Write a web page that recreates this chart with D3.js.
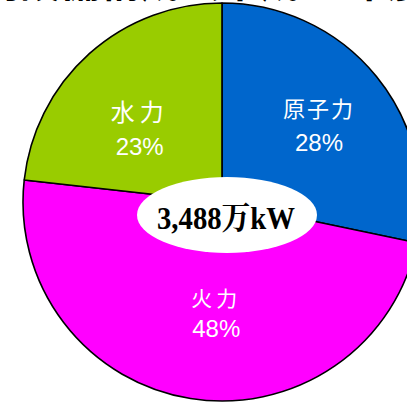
<!DOCTYPE html>
<html>
<head>
<meta charset="utf-8">
<script src="https://cdn.jsdelivr.net/npm/d3@7"></script>
<style>
  html, body { margin: 0; padding: 0; background: #fff; }
  svg { display: block; }
</style>
</head>
<body>
<svg id="chart" width="407" height="403"></svg>
<script>
// Generating capacity mix by source
const sources = ["原子力", "火力", "水力"];
const shares = [28, 48, 23];
const colors = ["#0066CC", "#FF00FF", "#99CC00"];
const totalLabel = "3,488万kW";
const titleText = "電源別設備構成（平成23年度末）";

const svg = d3.select("#chart");
const W = 407, H = 403;
const cx = 222, cy = 202, R = 199;

// Title sits above the frame; only its lower edge shows
svg.append("text")
  .attr("x", W / 2).attr("y", -3)
  .attr("text-anchor", "middle")
  .attr("font-family", "Noto Sans CJK JP")
  .attr("font-weight", "bold")
  .attr("font-size", 40)
  .attr("fill", "#000")
  .text(titleText);

const data = sources.map((s, i) => ({ name: s, value: shares[i], color: colors[i] }));

const pie = d3.pie().sort(null).value(d => d.value);
const arcs = pie(data);

const arc = d3.arc().innerRadius(0).outerRadius(R);
const labelArc = d3.arc().innerRadius(125).outerRadius(125);

const g = svg.append("g").attr("transform", `translate(${cx},${cy})`);

g.selectAll("path.slice")
  .data(arcs)
  .join("path")
  .attr("class", "slice")
  .attr("d", arc)
  .attr("fill", d => d.data.color)
  .attr("stroke", "#000")
  .attr("stroke-width", 1.6)
  .attr("stroke-linejoin", "round");

// Fine placement of each slice's label block
const labelLayout = {
  "原子力": { dx: 0, dy: 0, nameSize: 22, pctSize: 24, spacing: 2, nameDy: -6, pctDy: 28 },
  "火力":   { dx: 14, dy: -13, nameSize: 21, pctSize: 24, spacing: 4, nameDy: -6, pctDy: 25 },
  "水力":   { dx: 1, dy: 19, nameSize: 24, pctSize: 24, spacing: 5, nameDy: -7, pctDy: 27 }
};

const labels = g.selectAll("g.label")
  .data(arcs)
  .join("g")
  .attr("class", "label")
  .attr("transform", d => {
    const [x, y] = labelArc.centroid(d);
    const L = labelLayout[d.data.name];
    return `translate(${x + L.dx},${y + L.dy})`;
  });

labels.append("text")
  .attr("text-anchor", "middle")
  .attr("y", d => labelLayout[d.data.name].nameDy)
  .attr("font-family", "Noto Sans CJK JP")
  .attr("font-size", d => labelLayout[d.data.name].nameSize)
  .attr("letter-spacing", d => labelLayout[d.data.name].spacing)
  .attr("fill", "#fff")
  .text(d => d.data.name);

labels.append("text")
  .attr("text-anchor", "middle")
  .attr("y", d => labelLayout[d.data.name].pctDy)
  .attr("font-family", "Liberation Sans, Arial, sans-serif")
  .attr("font-size", d => labelLayout[d.data.name].pctSize)
  .attr("fill", "#fff")
  .text(d => d.data.value + "%");

// Total capacity badge
svg.append("ellipse")
  .attr("cx", 227).attr("cy", 215)
  .attr("rx", 90).attr("ry", 38)
  .attr("fill", "#fff");

svg.append("text")
  .attr("x", 226).attr("y", 229)
  .attr("text-anchor", "middle")
  .attr("font-family", "Liberation Serif, Noto Serif CJK JP, Noto Sans CJK JP, serif")
  .attr("font-weight", "bold")
  .attr("font-size", 32)
  .attr("textLength", 138)
  .attr("lengthAdjust", "spacingAndGlyphs")
  .attr("fill", "#000")
  .text(totalLabel);
</script>
</body>
</html>
